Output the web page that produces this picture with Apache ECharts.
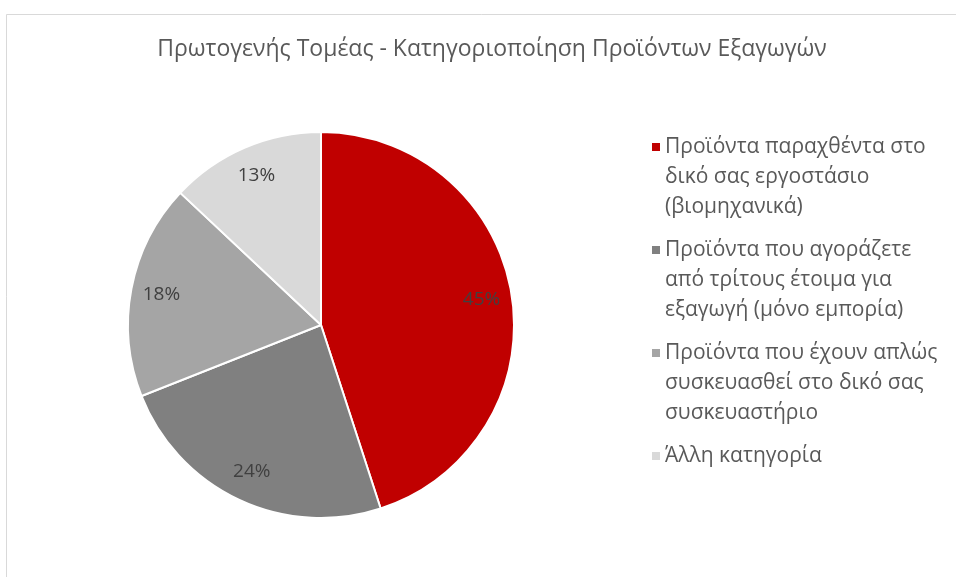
<!DOCTYPE html>
<html>
<head>
<meta charset="utf-8">
<script src="https://cdn.jsdelivr.net/npm/echarts@6/dist/echarts.min.js"></script>
<style>
  html, body { margin: 0; padding: 0; background: #fff; }
  #chart { width: 956px; height: 577px; }
</style>
</head>
<body>
<div id="chart"></div>
<script>
const titleText = "Πρωτογενής Τομέας - Κατηγοριοποίηση Προϊόντων Εξαγωγών";
const categories = [
  "Προϊόντα παραχθέντα στο δικό σας εργοστάσιο (βιομηχανικά)",
  "Προϊόντα που αγοράζετε από τρίτους έτοιμα για εξαγωγή (μόνο εμπορία)",
  "Προϊόντα που έχουν απλώς συσκευασθεί στο δικό σας συσκευαστήριο",
  "Άλλη κατηγορία",
];
// legend text as it wraps in the picture
const legendLines = [
  ["Προϊόντα παραχθέντα στο", "δικό σας εργοστάσιο", "(βιομηχανικά)"],
  ["Προϊόντα που αγοράζετε", "από τρίτους έτοιμα για", "εξαγωγή (μόνο εμπορία)"],
  ["Προϊόντα που έχουν απλώς", "συσκευασθεί στο δικό σας", "συσκευαστήριο"],
  ["Άλλη κατηγορία"],
];
const values = [45, 24, 18, 13];
const colors = ["#c00000", "#808080", "#a5a5a5", "#d9d9d9"];

const chart = echarts.init(document.getElementById("chart"));

const pieData = categories.map((name, i) => ({
  name: name,
  value: values[i],
  itemStyle: { color: colors[i] },
}));

const lineH = 30;
const font = "'Open Sans', 'Noto Sans', sans-serif";

const option = {
  backgroundColor: "#fff",
  animation: false,
  title: {
    text: titleText,
    left: 487,
    top: 33,
    textAlign: "center",
    textStyle: {
      fontFamily: font,
      fontSize: 23,
      fontWeight: "normal",
      color: "#595959",
    },
  },
  graphic: [
    {
      type: "rect",
      left: 4,
      top: 12,
      shape: { width: 1000, height: 700 },
      style: { fill: "none", stroke: "#d9d9d9", lineWidth: 1 },
      silent: true,
    },
  ],
  legend: {
    orient: "vertical",
    left: 647,
    top: 127,
    itemWidth: 8,
    itemHeight: lineH * 3,
    itemGap: 13,
    // square sits on the first text line
    icon: "path://M0,0h0.01v0.01h-0.01z M0," + (lineH / 2 - 4) + "h8v8h-8z M0," + (lineH * 3 - 0.01) + "h0.01v0.01h-0.01z",
    itemStyle: { borderWidth: 0 },
    data: categories,
    formatter: (name) => {
      const lines = legendLines[categories.indexOf(name)].slice();
      while (lines.length < 3) lines.push(" ");
      return lines.join("\n");
    },
    textStyle: {
      fontFamily: font,
      fontSize: 21,
      color: "#595959",
      lineHeight: lineH,
    },
  },
  series: [
    {
      type: "pie",
      center: [321, 325],
      radius: 193,
      startAngle: 90,
      clockwise: true,
      label: { show: false },
      labelLine: { show: false },
      itemStyle: { borderColor: "#fff", borderWidth: 2 },
      emphasis: { disabled: true },
      data: pieData,
    },
    {
      // transparent ring that only carries the percentage labels
      type: "pie",
      center: [321, 325],
      radius: [126, 193],
      startAngle: 90,
      clockwise: true,
      silent: true,
      label: {
        show: true,
        position: "inside",
        formatter: (p) => p.value + "%",
        fontFamily: font,
        fontSize: 19,
        color: "#404040",
      },
      labelLine: { show: false },
      itemStyle: { color: "rgba(0,0,0,0)", borderWidth: 0 },
      emphasis: { disabled: true },
      data: categories.map((name, i) => ({ name: name, value: values[i] })),
    },
  ],
};

chart.setOption(option);
window.addEventListener("resize", () => {
  chart && chart.resize();
});
</script>
</body>
</html>
